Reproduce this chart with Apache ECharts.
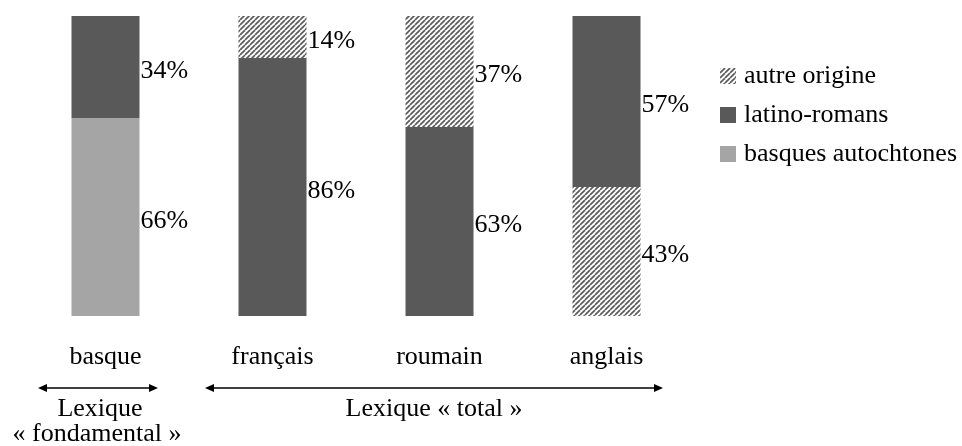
<!DOCTYPE html>
<html><head><meta charset="utf-8">
<script src="https://cdn.jsdelivr.net/npm/echarts@6/dist/echarts.min.js"></script>
<style>html,body{margin:0;padding:0;background:#fff}#c{width:962px;height:446px}</style>
</head><body><div id="c"></div>
<script>
const categories = ['basque', 'français', 'roumain', 'anglais'];
const autreBas = [0, 0, 0, 43];
const basques = [66, 0, 0, 0];
const latino = [34, 86, 63, 57];
const autreHaut = [0, 14, 37, 0];

const FONT = '"Liberation Serif", "Times New Roman", serif';
function hatch() {
  const c = document.createElement('canvas');
  c.width = 5; c.height = 5;
  const g = c.getContext('2d');
  g.fillStyle = '#ffffff'; g.fillRect(0, 0, 5, 5);
  g.strokeStyle = '#5a5a5a'; g.lineWidth = 1.7;
  for (const o of [-5, 0, 5]) { g.beginPath(); g.moveTo(o, 5); g.lineTo(o + 5, 0); g.stroke(); }
  return c;
}
const hatchColor = { image: hatch(), repeat: 'repeat' };
const lab = { show: true, position: 'right', distance: 1, offset: [0, 4], fontFamily: FONT, fontSize: 26, color: '#000',
  formatter: p => p.value > 0 ? p.value + '%' : '' };
function s(name, data, color) {
  return { name, type: 'bar', stack: 't', data, barWidth: 68, itemStyle: { color }, label: lab, emphasis: { disabled: true } };
}
const chart = echarts.init(document.getElementById('c'));
chart.setOption({
  animation: false,
  grid: { left: 22, width: 668, top: 16, bottom: 130 },
  xAxis: { type: 'category', data: categories, axisLine: { show: false }, axisTick: { show: false },
    axisLabel: { fontFamily: FONT, fontSize: 26, color: '#000', margin: 28 } },
  yAxis: { type: 'value', min: 0, max: 100, show: false },
  legend: { orient: 'vertical', left: 715, top: 58, itemGap: 13, itemWidth: 16, itemHeight: 16, icon: 'rect',
    data: ['autre origine', 'latino-romans', 'basques autochtones'],
    textStyle: { fontFamily: FONT, fontSize: 26, color: '#000', padding: [0, 0, 0, 3] }, itemStyle: { borderWidth: 0 } },
  series: [
    s('autre origine', autreBas, hatchColor),
    s('basques autochtones', basques, '#a5a5a5'),
    s('latino-romans', latino, '#595959'),
    s('autre origine', autreHaut, hatchColor)
  ],
  graphic: [
    { type: 'line', shape: { x1: 40, y1: 388, x2: 155, y2: 388 }, style: { stroke: '#000', lineWidth: 1.3 } },
    { type: 'polygon', shape: { points: [[38, 388], [47, 384], [47, 392]] }, style: { fill: '#000' } },
    { type: 'polygon', shape: { points: [[158, 388], [149, 384], [149, 392]] }, style: { fill: '#000' } },
    { type: 'line', shape: { x1: 207, y1: 388, x2: 660, y2: 388 }, style: { stroke: '#000', lineWidth: 1.3 } },
    { type: 'polygon', shape: { points: [[205, 388], [214, 384], [214, 392]] }, style: { fill: '#000' } },
    { type: 'polygon', shape: { points: [[663, 388], [654, 384], [654, 392]] }, style: { fill: '#000' } },
    { type: 'text', x: 100, y: 409, style: { text: 'Lexique', font: '26px ' + FONT, fill: '#000', align: 'center', verticalAlign: 'middle' } },
    { type: 'text', x: 97, y: 434, style: { text: '« fondamental »', font: '26px ' + FONT, fill: '#000', align: 'center', verticalAlign: 'middle' } },
    { type: 'text', x: 434, y: 409, style: { text: 'Lexique « total »', font: '26px ' + FONT, fill: '#000', align: 'center', verticalAlign: 'middle' } }
  ]
});
</script></body></html>
